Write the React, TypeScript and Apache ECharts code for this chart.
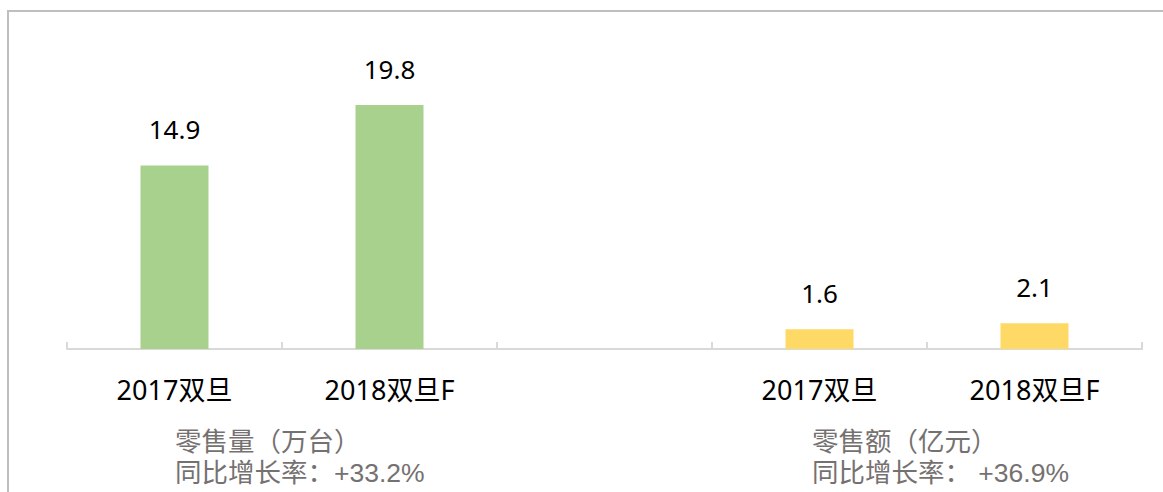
import React, { useEffect, useRef } from "react";
import * as echarts from "echarts";

const categories = ["2017双旦", "2018双旦F", "", "2017双旦", "2018双旦F"];
const volumeValues = [14.9, 19.8, null, null, null];
const amountValues = [null, null, null, 1.6, 2.1];
const volumeNote = ["零售量（万台）", "同比增长率：+33.2%"];
const amountNote = ["零售额（亿元）", "同比增长率： +36.9%"];

const FONT = "'Noto Sans', 'Noto Sans CJK SC', sans-serif";
const NOTE_FONT = "'Liberation Sans', 'Noto Sans CJK SC', sans-serif";

export default function App() {
  const ref = useRef<HTMLDivElement>(null);
  useEffect(() => {
    document.body.style.margin = "0";
    const chart = echarts.init(ref.current!, null, { renderer: "svg" });
    const labelCfg = {
      show: true,
      position: "top",
      distance: 23,
      color: "#000",
      fontSize: 26,
      fontFamily: FONT,
    };
    const noteStyle = { fill: "#767171", fontSize: 26.5, fontFamily: NOTE_FONT, lineHeight: 28 };
    chart.setOption({
      animation: false,
      backgroundColor: "#fff",
      grid: { left: 67, right: 21, top: 41, bottom: 143, containLabel: false },
      xAxis: {
        type: "category",
        data: categories,
        axisLine: { show: true, lineStyle: { color: "#d9d9d9", width: 2 } },
        axisTick: { show: true, inside: true, length: 7, lineStyle: { color: "#d9d9d9", width: 2 } },
        axisLabel: { color: "#000", fontSize: 27, fontFamily: FONT, margin: 27, interval: 0 },
      },
      yAxis: {
        type: "value",
        min: 0,
        max: 25,
        show: false,
        splitLine: { show: false },
      },
      series: [
        {
          type: "bar",
          data: volumeValues,
          barWidth: 68,
          barGap: "-100%",
          itemStyle: { color: "#A9D18E" },
          label: labelCfg,
        },
        {
          type: "bar",
          data: amountValues,
          barWidth: 68,
          barGap: "-100%",
          itemStyle: { color: "#FFD966" },
          label: labelCfg,
        },
      ],
      graphic: [
        { type: "line", shape: { x1: 8, y1: 11, x2: 1163, y2: 11 }, style: { stroke: "#bfbfbf", lineWidth: 2 } },
        { type: "line", shape: { x1: 8, y1: 10, x2: 8, y2: 492 }, style: { stroke: "#bfbfbf", lineWidth: 2 } },
        { type: "text", left: 175, top: 428, style: { text: volumeNote[0], ...noteStyle } },
        { type: "text", left: 175, top: 459, style: { text: volumeNote[1], ...noteStyle } },
        { type: "text", left: 812, top: 428, style: { text: amountNote[0], ...noteStyle } },
        { type: "text", left: 812, top: 459, style: { text: amountNote[1], ...noteStyle } },
      ],
    });
    return () => chart.dispose();
  }, []);
  return <div ref={ref} style={{ width: 1163, height: 492 }} />;
}
